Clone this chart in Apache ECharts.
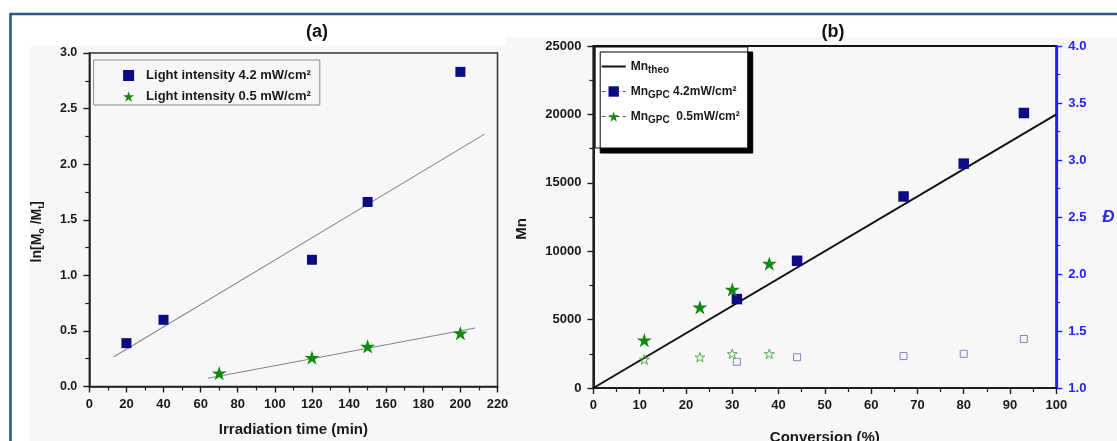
<!DOCTYPE html>
<html>
<head>
<meta charset="utf-8">
<script src="https://cdn.jsdelivr.net/npm/echarts@6/dist/echarts.min.js"></script>
<style>
html,body{margin:0;padding:0;background:#fff;}
#c{width:1117px;height:441px;}
</style>
</head>
<body>
<div id="c"></div>
<script>
// ---- Panel (a) data ----
const timeHigh = [20, 40, 120, 150, 200];
const lnHigh = [0.39, 0.60, 1.14, 1.66, 2.83];
const timeLow = [70, 120, 150, 200];
const lnLow = [0.12, 0.26, 0.36, 0.48];
const fitHighX = [13, 213];
const fitHighY = [0.265, 2.27];
const fitLowX = [64, 208];
const fitLowY = [0.074, 0.526];
const namesA = ['Light intensity 4.2 mW/cm²', 'Light intensity 0.5 mW/cm²'];
const ticksAx = {min: 0, max: 220, step: 20};
const ticksAy = {min: 0, max: 3, step: 0.5};

// ---- Panel (b) data ----
const convHigh = [31, 44, 67, 80, 93];
const mnHigh = [6500, 9300, 14000, 16400, 20100];
const dispHigh = [1.23, 1.27, 1.28, 1.30, 1.43];
const convLow = [11, 23, 30, 38];
const mnLow = [3500, 5900, 7200, 9100];
const dispLow = [1.25, 1.27, 1.30, 1.30];
const theoX = [0, 100];
const theoY = [0, 20000];
const namesB = ['Mn theo', 'Mn GPC 4.2mW/cm²', 'Mn GPC 0.5mW/cm²'];
const richNamesB = ['Mn{s|theo}', 'Mn{s|GPC} 4.2mW/cm²', 'Mn{s|GPC}  0.5mW/cm²'];
const ticksBx = {min: 0, max: 100, step: 10};
const ticksBy = {min: 0, max: 25000, step: 5000};
const ticksBd = {min: 1, max: 4, step: 0.5};

const zip = (a, b) => a.map((v, i) => [v, b[i]]);

const FONT = 'Liberation Sans, Arial, sans-serif';
const NAVY = '#0c0c82';
const GREEN = '#128a12';
const BLUE = '#1e1eff';
const DARK = '#1e1e1e';
const STAR = 'path://M50,0 L61.23,34.55 L97.55,34.55 L68.17,55.9 L79.39,90.45 L50,69.1 L20.61,90.45 L31.83,55.9 L2.45,34.55 L38.77,34.55 Z';

function axisCommon(color, width, fs, fmt, margin) {
  return {
    axisLine: {show: true, onZero: false, lineStyle: {color: color, width: width}},
    axisTick: {show: true, inside: false, length: 6, lineStyle: {color: color, width: 1.4}},
    minorTick: {show: true, splitNumber: 2, length: 4, lineStyle: {color: color, width: 1.2}},
    splitLine: {show: false},
    axisLabel: {fontFamily: FONT, fontWeight: 'bold', fontSize: fs, margin: margin, color: color === BLUE ? BLUE : '#1a1a1a', formatter: fmt}
  };
}
const fmt1 = v => v.toFixed(1);
const fmt0 = v => String(Math.round(v));

const chart = echarts.init(document.getElementById('c'), null, {renderer: 'canvas'});

const option = {
  animation: false,
  backgroundColor: '#ffffff',
  graphic: [
    {type: 'rect', z: -10, shape: {x: 30, y: 46, width: 476, height: 395}, style: {fill: '#f7f7f7'}, silent: true},
    {type: 'rect', z: -10, shape: {x: 506, y: 37, width: 611, height: 404}, style: {fill: '#f7f7f7'}, silent: true},
    {type: 'polyline', z: 100, shape: {points: [[10.5, 441], [10.5, 14], [1117, 14]]}, style: {stroke: '#2b5888', lineWidth: 2.6, fill: null}, silent: true},
    {type: 'text', z: 100, x: 317, y: 32, style: {text: '(a)', font: 'bold 18px ' + FONT, fill: '#111', align: 'center', verticalAlign: 'middle'}},
    {type: 'text', z: 100, x: 833, y: 32, style: {text: '(b)', font: 'bold 18px ' + FONT, fill: '#111', align: 'center', verticalAlign: 'middle'}}
  ],
  grid: [
    {left: 89.3, right: 1117 - 497.5, top: 53, bottom: 441 - 386.5, outerBoundsMode: 'none', containLabel: false, show: true, backgroundColor: 'transparent', borderColor: '#333', borderWidth: 1.5},
    {left: 593.4, right: 1117 - 1056.3, top: 46, bottom: 441 - 388, outerBoundsMode: 'none', containLabel: false, show: true, backgroundColor: 'transparent', borderColor: '#111', borderWidth: 2}
  ],
  xAxis: [
    Object.assign(axisCommon(DARK, 1.5, 13, fmt0, 11), {
      type: 'value', gridIndex: 0, min: ticksAx.min, max: ticksAx.max, interval: ticksAx.step,
      name: 'Irradiation time (min)', nameLocation: 'middle', nameGap: 36,
      nameTextStyle: {fontFamily: FONT, fontWeight: 'bold', fontSize: 15, color: '#1a1a1a'}
    }),
    Object.assign(axisCommon(DARK, 2, 13, fmt0, 11), {
      type: 'value', gridIndex: 1, min: ticksBx.min, max: ticksBx.max, interval: ticksBx.step,
      name: 'Conversion (%)', nameLocation: 'middle', nameGap: 42,
      nameTextStyle: {fontFamily: FONT, fontWeight: 'bold', fontSize: 15, color: '#1a1a1a'}
    })
  ],
  yAxis: [
    Object.assign(axisCommon(DARK, 1.5, 12.5, fmt1, 12), {
      type: 'value', gridIndex: 0, min: ticksAy.min, max: ticksAy.max, interval: ticksAy.step,
      name: 'ln[M{s|o} /M{s|t}]', nameLocation: 'middle', nameGap: 43,
      nameTextStyle: {fontFamily: FONT, fontWeight: 'bold', fontSize: 14, color: '#1a1a1a', lineHeight: 18, padding: [0, 24, 0, 0],
        rich: {s: {fontFamily: FONT, fontWeight: 'bold', fontSize: 9, lineHeight: 9, verticalAlign: 'bottom', color: '#1a1a1a'}}}
    }),
    Object.assign(axisCommon(DARK, 2, 13, fmt0, 12), {
      type: 'value', gridIndex: 1, min: ticksBy.min, max: ticksBy.max, interval: ticksBy.step,
      name: 'Mn', nameLocation: 'middle', nameGap: 64,
      nameTextStyle: {fontFamily: FONT, fontWeight: 'bold', fontSize: 15, color: '#1a1a1a', padding: [0, 24, 0, 0]}
    }),
    Object.assign(axisCommon(BLUE, 2.2, 13, fmt1, 12), {
      type: 'value', gridIndex: 1, position: 'right', min: ticksBd.min, max: ticksBd.max, interval: ticksBd.step,
      name: 'Đ', nameLocation: 'middle', nameRotate: 0, nameGap: 46,
      nameTextStyle: {fontFamily: FONT, fontWeight: 'bold', fontStyle: 'italic', fontSize: 17, color: '#2a2ad0', padding: [32, 0, 0, 0]}
    })
  ],
  legend: [
    {
      left: 93.6, top: 60, orient: 'vertical',
      data: namesA,
      itemWidth: 11, itemHeight: 11, itemGap: 6,
      padding: [8, 9, 1, 29.5],
      borderColor: '#8a8a8a', borderWidth: 1, backgroundColor: 'transparent',
      textStyle: {fontFamily: FONT, fontWeight: 'bold', fontSize: 13, color: '#1a1a1a', lineHeight: 15, padding: [0, 0, 0, 7]},
      selectedMode: false
    },
    {
      left: 595.2, top: 47, orient: 'vertical',
      data: [
        {name: namesB[0], lineStyle: {color: '#111', width: 2, type: 'solid', opacity: 1}, itemStyle: {opacity: 0}},
        {name: namesB[1], lineStyle: {color: '#555', width: 1, type: [4, 3], opacity: 1}},
        {name: namesB[2], lineStyle: {color: '#555', width: 1, type: [4, 3], opacity: 1}}
      ],
      formatter: function (n) { return richNamesB[namesB.indexOf(n)]; },
      itemWidth: 24, itemHeight: 13, itemGap: 8,
      padding: [11, 8, 23, 5.5],
      borderColor: '#111', borderWidth: 1, backgroundColor: '#ffffff',
      shadowColor: '#000', shadowBlur: 0, shadowOffsetX: 5, shadowOffsetY: 5,
      textStyle: {fontFamily: FONT, fontWeight: 'bold', fontSize: 12, color: '#1a1a1a', lineHeight: 17,
        rich: {s: {fontFamily: FONT, fontWeight: 'bold', fontSize: 10, lineHeight: 10, verticalAlign: 'bottom', color: '#1a1a1a'}}},
      selectedMode: false
    }
  ],
  series: [
    // panel (a) fits
    {type: 'line', xAxisIndex: 0, yAxisIndex: 0, data: zip(fitHighX, fitHighY), showSymbol: false, symbol: 'none', lineStyle: {color: '#888', width: 1.1}, z: 1, silent: true},
    {type: 'line', xAxisIndex: 0, yAxisIndex: 0, data: zip(fitLowX, fitLowY), showSymbol: false, symbol: 'none', lineStyle: {color: '#888', width: 1.1}, z: 1, silent: true},
    {name: namesA[0], type: 'scatter', xAxisIndex: 0, yAxisIndex: 0, data: zip(timeHigh, lnHigh), symbol: 'rect', symbolSize: 10, itemStyle: {color: NAVY, opacity: 1}, z: 3},
    {name: namesA[1], type: 'scatter', xAxisIndex: 0, yAxisIndex: 0, data: zip(timeLow, lnLow), symbol: STAR, symbolSize: 15, symbolKeepAspect: true, itemStyle: {color: GREEN, opacity: 1}, z: 3},
    // panel (b)
    {name: namesB[0], type: 'line', xAxisIndex: 1, yAxisIndex: 1, data: zip(theoX, theoY), showSymbol: false, symbol: 'none', lineStyle: {color: '#111', width: 2}, z: 2},
    {name: namesB[1], type: 'line', xAxisIndex: 1, yAxisIndex: 1, data: zip(convHigh, mnHigh), symbol: 'rect', symbolSize: 10.5, showSymbol: true, itemStyle: {color: NAVY, opacity: 1}, lineStyle: {width: 0, opacity: 0}, z: 3},
    {name: namesB[2], type: 'line', xAxisIndex: 1, yAxisIndex: 1, data: zip(convLow, mnLow), symbol: STAR, symbolSize: 15, symbolKeepAspect: true, showSymbol: true, itemStyle: {color: GREEN, opacity: 1}, lineStyle: {width: 0, opacity: 0}, z: 3},
    {type: 'scatter', xAxisIndex: 1, yAxisIndex: 2, data: zip(convHigh, dispHigh), symbol: 'rect', symbolSize: 7, itemStyle: {color: 'rgba(0,0,0,0)', borderColor: '#8282cc', borderWidth: 1, opacity: 1}, z: 3},
    {type: 'scatter', xAxisIndex: 1, yAxisIndex: 2, data: zip(convLow, dispLow), symbol: STAR, symbolSize: 10, symbolKeepAspect: true, itemStyle: {color: 'rgba(0,0,0,0)', borderColor: '#4fae4f', borderWidth: 1, opacity: 1}, z: 3}
  ]
};

chart.setOption(option);
</script>
</body>
</html>
